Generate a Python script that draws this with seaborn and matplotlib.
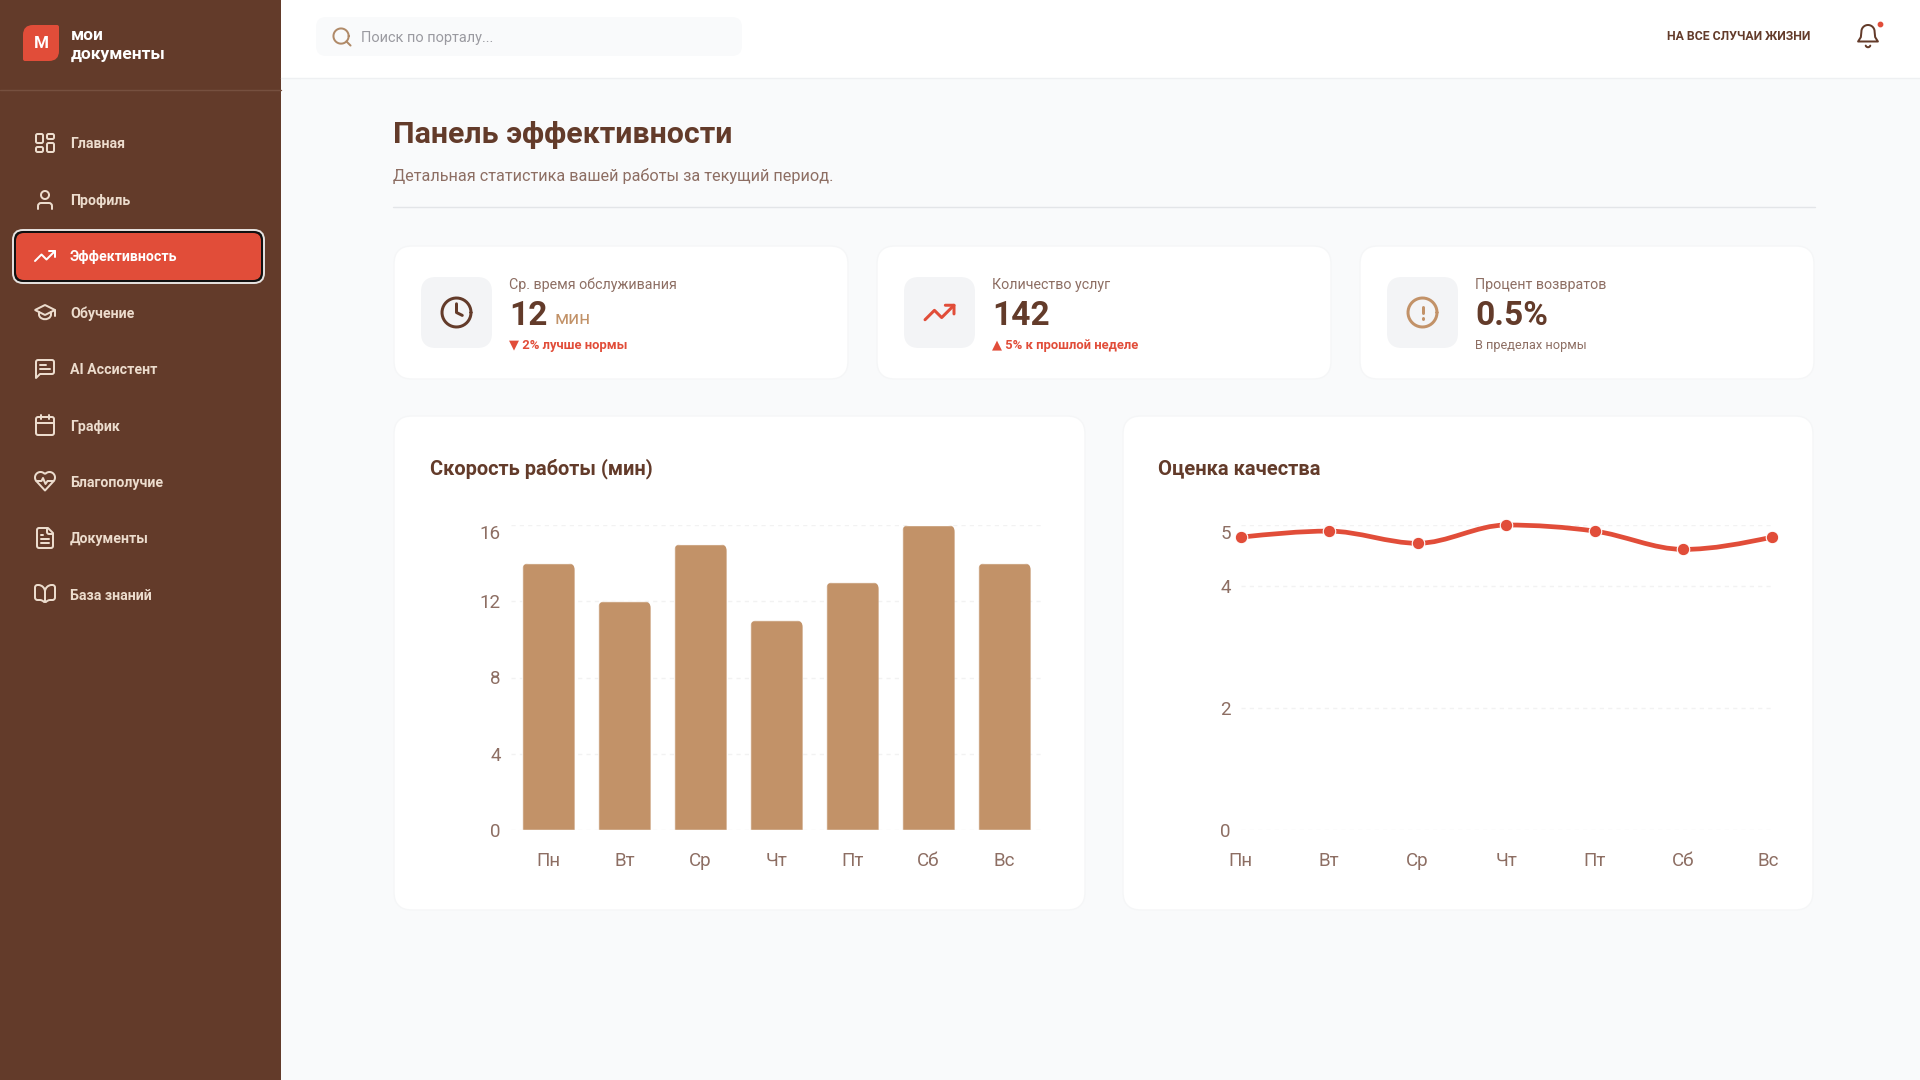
import numpy as np
import matplotlib
matplotlib.use("Agg")
import matplotlib.pyplot as plt
import seaborn as sns
from matplotlib import font_manager
from matplotlib.patches import FancyBboxPatch, PathPatch, Rectangle
from matplotlib.path import Path
from matplotlib.transforms import ScaledTranslation

days = ["Пн", "Вт", "Ср", "Чт", "Пт", "Сб", "Вс"]
speed_min = [14, 12, 15, 11, 13, 16, 14]
quality = [4.8, 4.9, 4.7, 5.0, 4.9, 4.6, 4.8]
speed_ticks = [0, 4, 8, 12, 16]
quality_ticks = [0, 2, 4, 5]

nav_labels = ["Главная", "Профиль", "Эффективность", "Обучение", "AI Ассистент",
              "График", "Благополучие", "Документы", "База знаний"]
nav_icons = ["home", "user", "trend", "cap", "chat", "calendar", "heart", "file", "book"]
kpi_labels = ["Ср. время обслуживания", "Количество услуг", "Процент возвратов"]
kpi_values = ["12", "142", "0.5%"]
kpi_notes = ["▼ 2% лучше нормы", "▲ 5% к прошлой неделе", "В пределах нормы"]

BROWN = "#633b2a"
RED = "#e14d39"
TAN = "#c29268"
MUTED = "#8d6e63"
BG = "#f9fafb"
FONT = "Roboto"
names = {f.name for f in font_manager.fontManager.ttflist}
NARROW = "Liberation Sans Narrow" if "Liberation Sans Narrow" in names else FONT

sns.set_theme(style="white")
plt.rcParams["font.family"] = [FONT, "DejaVu Sans"]


def rounded_path(pts, radii=0, closed=False):
    pts = np.array(pts, float)
    n = len(pts)
    radii = np.broadcast_to(radii, (n,))
    verts, codes = [], []
    if not closed:
        verts.append(pts[0])
        codes.append(Path.MOVETO)
    for i in range(n) if closed else range(1, n - 1):
        p, a, b = pts[i], pts[i - 1], pts[(i + 1) % n]
        la, lb = np.linalg.norm(a - p), np.linalg.norm(b - p)
        r = min(radii[i], la / 2, lb / 2)
        verts += [p + (a - p) / la * r, p, p + (b - p) / lb * r]
        codes += [Path.LINETO if verts[:-3] else Path.MOVETO, Path.CURVE3, Path.CURVE3]
    if closed:
        verts.append(verts[0])
        codes.append(Path.CLOSEPOLY)
    else:
        verts.append(pts[-1])
        codes.append(Path.LINETO)
    return Path(verts, codes)


def arc(cx, cy, r, a0=0, a1=360):
    t = np.radians(np.linspace(a0, a1, 40))
    return list(zip(cx + r * np.cos(t), cy + r * np.sin(t)))


def box(x, y, w, h):
    return ([(x, y), (x + w, y), (x + w, y + h), (x, y + h)], 1.5, True)


# stroke lists on a 24 unit grid
ICONS = {
    "home": [box(3, 3, 7, 9), box(14, 3, 7, 5), box(14, 12, 7, 9), box(3, 16, 7, 5)],
    "user": [(arc(12, 7, 4), 0, False), ([(5, 21), (5, 15), (19, 15), (19, 21)], 4, False)],
    "trend": [([(22, 7), (13.5, 15.5), (8.5, 10.5), (2, 17)], 0, False),
              ([(16, 7), (22, 7), (22, 13)], 0, False)],
    "cap": [([(2, 10), (12, 5), (22, 10), (12, 15)], 0.5, True),
            ([(6, 12), (6, 17), (12, 20), (18, 17), (18, 12)], 3, False),
            ([(22, 10), (22, 16)], 0, False)],
    "chat": [([(21, 3), (21, 17), (7, 17), (3, 21), (3, 3)], [2, 2, 0, 0, 2], True),
             ([(7, 8), (13, 8)], 0, False), ([(7, 12), (17, 12)], 0, False)],
    "calendar": [([(3, 4), (21, 4), (21, 22), (3, 22)], 2, True), ([(16, 2), (16, 6)], 0, False),
                 ([(8, 2), (8, 6)], 0, False), ([(3, 10), (21, 10)], 0, False)],
    "heart": [(arc(7.5, 8.5, 5.5, 135, 315) + arc(16.5, 8.5, 5.5, 225, 405) + [(12, 21.5)], 0, True),
              ([(3.5, 12), (8.5, 12), (10, 9), (12.5, 15), (14.5, 12), (20.5, 12)], 0, False)],
    "file": [([(15, 2), (4, 2), (4, 22), (20, 22), (20, 7)], [0, 2, 2, 2, 0], True),
             ([(14, 2), (14, 8), (20, 8)], 2, False), ([(8, 9), (10, 9)], 0, False),
             ([(8, 13), (16, 13)], 0, False), ([(8, 17), (16, 17)], 0, False)],
    "book": [([(2, 3), (8, 3), (12, 7), (12, 21), (9, 18), (2, 18)], 2.5, True),
             ([(22, 3), (16, 3), (12, 7), (12, 21), (15, 18), (22, 18)], 2.5, True)],
    "search": [(arc(11, 11, 8), 0, False), ([(21, 21), (16.65, 16.65)], 0, False)],
    "bell": [(arc(12, 8, 6, 180, 360) + [(18.5, 13), (21, 17), (3, 17), (5.5, 13)], 0, True),
             (arc(12, 20, 2.2, 20, 160), 0, False)],
    "clock": [(arc(12, 12, 10), 0, False), ([(12, 6), (12, 12), (16, 14)], 0, False)],
    "alert": [(arc(12, 12, 10), 0, False), ([(12, 8), (12, 12)], 0, False),
              ([(12, 16), (12, 16.5)], 0, False)],
}

fig = plt.figure(figsize=(19.2, 10.8), dpi=100, facecolor=BG)
ui = fig.add_axes([0, 0, 1, 1])
ui.set_xlim(0, 1920)
ui.set_ylim(1080, 0)
ui.axis("off")


def label(x, y, s, px, color, weight="normal", ha="left"):
    ui.text(x, y + 1.5, s, fontsize=px * 0.72, color=color, fontweight=weight, ha=ha, va="center", zorder=5)


def panel(x0, y0, x1, y1, r, fc, ec="none", lw=1.0, z=1):
    ui.add_patch(FancyBboxPatch((x0, y0), x1 - x0, y1 - y0, boxstyle=f"round,pad=0,rounding_size={r}",
                                fc=fc, ec=ec, lw=lw, zorder=z))


def icon(name, cx, cy, color, scale=1.0, lw=2.0):
    for pts, r, closed in ICONS[name]:
        pts = [(cx + (px - 12) * scale, cy + (py - 12) * scale) for px, py in pts]
        r = np.asarray(r, float) * scale
        ui.add_patch(PathPatch(rounded_path(pts, r, closed), fc="none", ec=color, lw=lw * 0.72,
                               capstyle="round", joinstyle="round", zorder=4))


# sidebar and header
ui.add_patch(Rectangle((0, 0), 281, 1080, fc=BROWN, ec="none", zorder=1))
ui.add_patch(Rectangle((281, 0), 1639, 77.5, fc="white", ec="none", zorder=1))
ui.plot([281, 1920], [77.5, 77.5], color="#eef0f2", lw=1, zorder=2)
ui.plot([0, 281], [90, 90], color="#76503f", lw=1, zorder=2)
ui.add_patch(PathPatch(rounded_path([(23, 25), (59, 25), (59, 61), (23, 61)], [10, 2, 10, 2], True),
                       fc=RED, ec="none", zorder=2))
label(41, 42, "М", 17, "white", "bold", ha="center")
label(71, 34.5, "мои", 17.4, "white", "bold")
label(71, 53, "документы", 17.4, "white", "bold")

nav_y = [143, 200, 256, 312, 369, 425, 481, 538, 594]
panel(13, 230, 264, 283, 10, "#111111", ec="#e8e4e1", lw=1.4, z=2)
panel(16, 233, 261, 280, 8, RED, z=3)
for name, ic, y in zip(nav_labels, nav_icons, nav_y):
    active = name == "Эффективность"
    icon(ic, 45, y, "white" if active else "#ecdccd")
    label(70, y, name, 14.1, "white" if active else "#ecdccd", "bold")

panel(316, 17, 742, 56, 10, BG, z=2)
icon("search", 342, 37, "#b08a68", scale=0.95)
label(361, 36.5, "Поиск по порталу...", 14.5, "#9a9aa0")
label(1810, 35.5, "НА ВСЕ СЛУЧАИ ЖИЗНИ", 12.2, BROWN, "bold", ha="right")
icon("bell", 1868, 36, BROWN, scale=1.1)
ui.scatter([1880], [24], s=10, color=RED, zorder=5)

label(393, 133.5, "Панель эффективности", 30.4, BROWN, "bold")
label(393, 175, "Детальная статистика вашей работы за текущий период.", 16.2, MUTED)
ui.plot([393, 1815], [207, 207], color="#e3e5e8", lw=1, zorder=2)

# kpi cards
card_x = [394, 877, 1360]
kpi_icon = ["clock", "trend", "alert"]
kpi_color = [BROWN, RED, TAN]
kpi_note_color = [RED, RED, MUTED]
for i, x in enumerate(card_x):
    panel(x, 246, x + 454, 379, 18, "white", ec="#f5f6f7", z=1)
    panel(x + 27, 277, x + 98, 348, 15, "#f3f4f6", z=2)
    icon(kpi_icon[i], x + 62.5, 312.5, kpi_color[i], scale=1.45, lw=3)
    label(x + 115, 283, kpi_labels[i], 14.2, MUTED)
    label(x + 115, 314.5, kpi_values[i], 33.5, BROWN, "bold")
    label(x + 115, 344, kpi_notes[i], 13 if i < 2 else 12.7, kpi_note_color[i], "bold" if i < 2 else "normal")
label(555, 318, "мин", 19, TAN)

# chart cards
panel(394, 416, 1085, 910, 18, "white", ec="#f5f6f7", z=1)
panel(1123, 416, 1813, 910, 18, "white", ec="#f5f6f7", z=1)
label(430, 467, "Скорость работы (мин)", 20, BROWN, "bold")
label(1158, 467, "Оценка качества", 20.2, BROWN, "bold")


def chart_axes(x0, y0, x1, y1):
    ax = fig.add_axes([x0 / 1920, 1 - y1 / 1080, (x1 - x0) / 1920, (y1 - y0) / 1080])
    ax.patch.set_visible(False)
    return ax


def style_axes(ax, yticks):
    sns.despine(ax=ax, left=True, bottom=True)
    ax.set_ylim(0, yticks[-1])
    ax.set_yticks(yticks)
    ax.set_xlabel("")
    ax.set_ylabel("")
    ax.yaxis.grid(True, color="#f2f2f2", lw=1, ls=(0, (3, 3)))
    ax.set_axisbelow(True)
    ax.tick_params(axis="y", length=0, pad=7, labelsize=13.5, labelcolor=MUTED)
    ax.tick_params(axis="x", length=0, pad=16, labelsize=13.5, labelcolor=MUTED)
    for t in ax.get_xticklabels() + ax.get_yticklabels():
        t.set_family(NARROW)
    ax.get_yticklabels()[-1].set_va("top")


ax1 = chart_axes(510.5, 525, 1042.5, 830)
sns.barplot(x=days, y=speed_min, color=TAN, saturation=1, width=0.69, ax=ax1)
style_axes(ax1, speed_ticks)
ax1.set_xlim(-0.5, 6.5)
# rounded top corners: clip each bar with its own outline
for bar in ax1.patches:
    x, w, h = bar.get_x(), bar.get_width(), bar.get_height()
    rx, ry = 7 / 76, 7 / 19.06
    outline = Path([(x, 0), (x, h - ry), (x, h), (x + rx, h), (x + w - rx, h), (x + w, h), (x + w, h - ry), (x + w, 0), (x, 0)],
                   [Path.MOVETO, Path.LINETO, Path.CURVE3, Path.CURVE3, Path.LINETO, Path.CURVE3, Path.CURVE3, Path.LINETO, Path.CLOSEPOLY])
    bar.set_clip_path(outline, ax1.transData)

ax2 = chart_axes(1240.5, 525, 1772, 830)
sns.lineplot(x=days, y=quality, sort=False, color=RED, marker="o", markersize=9, linewidth=0,
             markeredgecolor="white", markeredgewidth=0.8, clip_on=False, zorder=4, ax=ax2)
style_axes(ax2, quality_ticks)
ax2.set_xlim(0, 6)
# the last day label sits a little inside the plot edge
last = ax2.get_xticklabels()[-1]
last.set_transform(last.get_transform() + ScaledTranslation(-0.035, 0, fig.dpi_scale_trans))

# monotone curve through the points, same shape as the web chart's smooth line
py = np.asarray(ax2.lines[0].get_ydata(), float)
px = np.arange(len(py), dtype=float)
s = np.diff(py)
t = np.zeros(len(py))
t[1:-1] = (np.sign(s[:-1]) + np.sign(s[1:])) * np.minimum.reduce([abs(s[:-1]), abs(s[1:]), 0.5 * abs(s[:-1] + s[1:])])
t[0] = 1.5 * s[0] - 0.5 * t[1]
t[-1] = 1.5 * s[-1] - 0.5 * t[-2]
verts = [(px[0], py[0])]
codes = [Path.MOVETO]
for i in range(len(py) - 1):
    verts += [(px[i] + 1 / 3, py[i] + t[i] / 3), (px[i + 1] - 1 / 3, py[i + 1] - t[i + 1] / 3), (px[i + 1], py[i + 1])]
    codes += [Path.CURVE4] * 3
ax2.add_patch(PathPatch(Path(verts, codes), fc="none", ec=RED, lw=3.4, clip_on=False, zorder=3))

fig.savefig("out.png", dpi=100, facecolor=BG)
